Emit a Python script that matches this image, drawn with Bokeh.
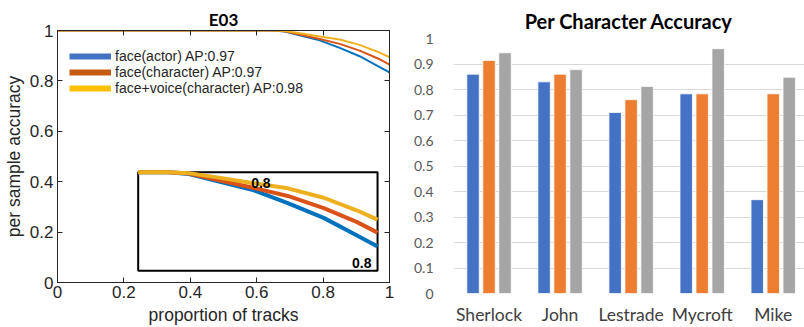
from bokeh.plotting import figure
from bokeh.models import Range1d, FixedTicker, LinearAxis
from bokeh.transform import dodge
from bokeh.core.properties import value
from bokeh.core.templates import get_env
from bokeh.embed import file_html
from bokeh.resources import INLINE

# ---------------- data: left panel (E03) ----------------
tracks = [0.0, 0.60, 0.65, 0.685, 0.735, 0.79, 0.85, 0.91, 0.965, 1.00]
acc_face_actor = [1.0, 1.0, 1.0, 0.996, 0.979, 0.961, 0.931, 0.898, 0.859, 0.834]
acc_face_character = [1.0, 1.0, 1.0, 0.997, 0.982, 0.966, 0.947, 0.920, 0.889, 0.865]
acc_face_voice = [1.0, 1.0, 1.0, 0.998, 0.988, 0.976, 0.964, 0.943, 0.915, 0.894]
series_names = ["face(actor) AP:0.97", "face(character) AP:0.97", "face+voice(character) AP:0.98"]
axis_ticks = [0.0, 0.2, 0.4, 0.6, 0.8, 1.0]
axis_tick_labels = ["0", "0.2", "0.4", "0.6", "0.8", "1"]
inset_x_limits = [0.6, 1.0]
inset_y_limits = [0.78, 1.0]
inset_tick = [0.8]
inset_tick_label = ["0.8"]

# ---------------- data: right panel ----------------
characters = ["Sherlock", "John", "Lestrade", "Mycroft", "Mike"]
bar_face_actor = [0.86, 0.83, 0.71, 0.783, 0.368]
bar_face_character = [0.914, 0.86, 0.76, 0.783, 0.783]
bar_face_voice = [0.944, 0.878, 0.812, 0.96, 0.848]
bar_ticks = [0, 0.1, 0.2, 0.3, 0.4, 0.5, 0.6, 0.7, 0.8, 0.9, 1.0]
bar_tick_labels = ["0", "0.1", "0.2", "0.3", "0.4", "0.5", "0.6", "0.7", "0.8", "0.9", "1"]

# ---------------- styles ----------------
line_colors = ["#0072BD", "#D95319", "#EDB120"]
legend_colors = ["#4472C4", "#C55A11", "#FFC000"]
bar_colors = ["#4472C4", "#ED7D31", "#A5A5A5"]
AX = "#262626"
MFONT = "Liberation Sans"
TFONT = "Lato"

# inset box placement (fractions of the main frame)
box_l, box_r, box_b, box_t = 0.243, 0.964, 0.047, 0.4375


def extra_range(lo_frac, hi_frac, lo_val, hi_val):
    slope = (hi_val - lo_val) / (hi_frac - lo_frac)
    start = lo_val - lo_frac * slope
    return Range1d(start, start + slope)


p1 = figure(width=400, height=327, x_range=Range1d(0, 1), y_range=Range1d(0, 1),
            output_backend="svg", toolbar_location=None, title="E03",
            min_border_left=56, min_border_right=11, min_border_top=30, min_border_bottom=41)
p1.extra_x_ranges = {"inset": extra_range(box_l, box_r, inset_x_limits[0], inset_x_limits[1])}
p1.extra_y_ranges = {"inset": extra_range(box_b, box_t, inset_y_limits[0], inset_y_limits[1])}

p1.title.align = "center"
p1.title.offset = 5
p1.title.text_font = TFONT
p1.title.text_font_style = "bold"
p1.title.text_font_size = "17px"
p1.title.text_color = "black"
p1.title.standoff = 2

p1.grid.visible = False
p1.outline_line_color = AX
overrides = {t: l for t, l in zip(axis_ticks, axis_tick_labels)}
for ax in (p1.xaxis[0], p1.yaxis[0]):
    ax.ticker = FixedTicker(ticks=axis_ticks)
    ax.major_label_overrides = overrides
    ax.major_tick_in = 5
    ax.major_tick_out = 0
    ax.minor_tick_line_color = None
    ax.axis_line_color = AX
    ax.major_tick_line_color = AX
    ax.major_label_text_color = AX
    ax.major_label_text_font = MFONT
    ax.major_label_text_font_size = "17px"
    ax.axis_label_text_font = MFONT
    ax.axis_label_text_font_size = "17.5px"
    ax.axis_label_text_font_style = "normal"
    ax.axis_label_text_color = AX
p1.xaxis.major_label_standoff = 3
p1.xaxis.axis_label_standoff = 4
p1.yaxis.major_label_standoff = 4
p1.yaxis.axis_label_standoff = 3
p1.xaxis.axis_label = "proportion of tracks"
p1.yaxis.axis_label = "per sample accuracy"

for side in ("above", "right"):
    a = LinearAxis(ticker=FixedTicker(ticks=axis_ticks), major_label_text_font_size="1px",
                   major_label_text_color=None,
                   major_label_standoff=0, major_tick_in=5, major_tick_out=0,
                   minor_tick_line_color=None, axis_line_color=AX, major_tick_line_color=AX)
    p1.add_layout(a, side)

ys = [acc_face_actor, acc_face_character, acc_face_voice]
for y, c in zip(ys, line_colors):
    p1.line(tracks, y, line_color=c, line_width=2)

# inset
p1.quad(left=[box_l], right=[box_r], bottom=[box_b], top=[box_t],
        fill_color="white", line_color="black", line_width=2)
sel = [i for i, t in enumerate(tracks) if t >= inset_x_limits[0]]
for y, c in zip(ys, line_colors):
    p1.line([tracks[i] for i in sel], [y[i] for i in sel], line_color=c, line_width=4,
            x_range_name="inset", y_range_name="inset")
p1.text(x=inset_tick, y=[inset_y_limits[1]], text=inset_tick_label,
        x_range_name="inset", y_range_name="inset", text_align="center",
        text_baseline="top", x_offset=3, y_offset=6, text_font=value(MFONT), text_font_style="bold",
        text_font_size="14px", text_color="black")
p1.text(x=[inset_x_limits[1]], y=inset_tick, text=inset_tick_label,
        x_range_name="inset", y_range_name="inset", text_align="right",
        text_baseline="middle", x_offset=-6, y_offset=1, text_font=value(MFONT),
        text_font_style="bold", text_font_size="14px", text_color="black")

# legend proxies
nan = float("nan")
for name, c in zip(series_names, legend_colors):
    p1.line([nan], [nan], line_color=c, line_width=6, legend_label=name)
lg = p1.legend[0]
lg.location = (12, 186)
lg.padding = 0
lg.margin = 0
lg.spacing = -3
lg.glyph_width = 42
lg.glyph_height = 8
lg.label_height = 15
lg.label_standoff = 4
lg.label_text_font = MFONT
lg.label_text_font_size = "14px"
lg.label_text_color = AX
lg.background_fill_alpha = 0
lg.border_line_alpha = 0

# ---------------- right panel ----------------
positions = [i + 0.5 for i in range(len(characters))]
src = dict(pos=positions, a=bar_face_actor, b=bar_face_character, c=bar_face_voice)

p2 = figure(width=404, height=327, x_range=Range1d(0, 4.94), y_range=Range1d(0, 1),
            output_backend="svg", toolbar_location=None, title="Per Character Accuracy",
            min_border_left=53, min_border_right=0, min_border_top=38, min_border_bottom=30)
p2.title.align = "center"
p2.title.offset = -5
p2.title.text_font = TFONT
p2.title.text_font_style = "bold"
p2.title.text_font_size = "20px"
p2.title.text_color = "black"
p2.title.standoff = 12
p2.outline_line_color = None
p2.xgrid.visible = False
p2.ygrid.ticker = FixedTicker(ticks=bar_ticks)
p2.ygrid.grid_line_color = "#D9D9D9"
p2.ygrid.grid_line_width = 1

p2.yaxis.ticker = FixedTicker(ticks=bar_ticks)
p2.yaxis.major_label_overrides = {t: l for t, l in zip(bar_ticks, bar_tick_labels)}
p2.xaxis.ticker = FixedTicker(ticks=positions)
p2.xaxis.major_label_overrides = {t: l for t, l in zip(positions, characters)}
for ax in (p2.xaxis[0], p2.yaxis[0]):
    ax.axis_line_color = None
    ax.major_tick_line_color = None
    ax.minor_tick_line_color = None
    ax.major_label_text_font = TFONT
p2.yaxis.major_label_text_font_size = "14px"
p2.yaxis.major_label_text_color = "#595959"
p2.yaxis.major_label_standoff = 14
p2.xaxis.major_label_text_font_size = "17.5px"
p2.xaxis.major_label_text_color = "#404040"
p2.xaxis.major_label_standoff = 4

for key, off, c in zip(["a", "b", "c"], [-0.225, 0.0, 0.225], bar_colors):
    p2.vbar(x=dodge("pos", off, range=p2.x_range), top=key, width=0.175, bottom=0,
            source=src, fill_color=c, line_color="white", line_width=0.8)

tmpl = get_env().from_string(
    '{% extends "file.html" %}\n'
    '{% block contents %}<div style="display:flex;flex-direction:row;align-items:flex-start;">'
    '{{ super() }}</div>{% endblock %}'
)
open("out.html", "w").write(file_html([p1, p2], INLINE, template=tmpl))
